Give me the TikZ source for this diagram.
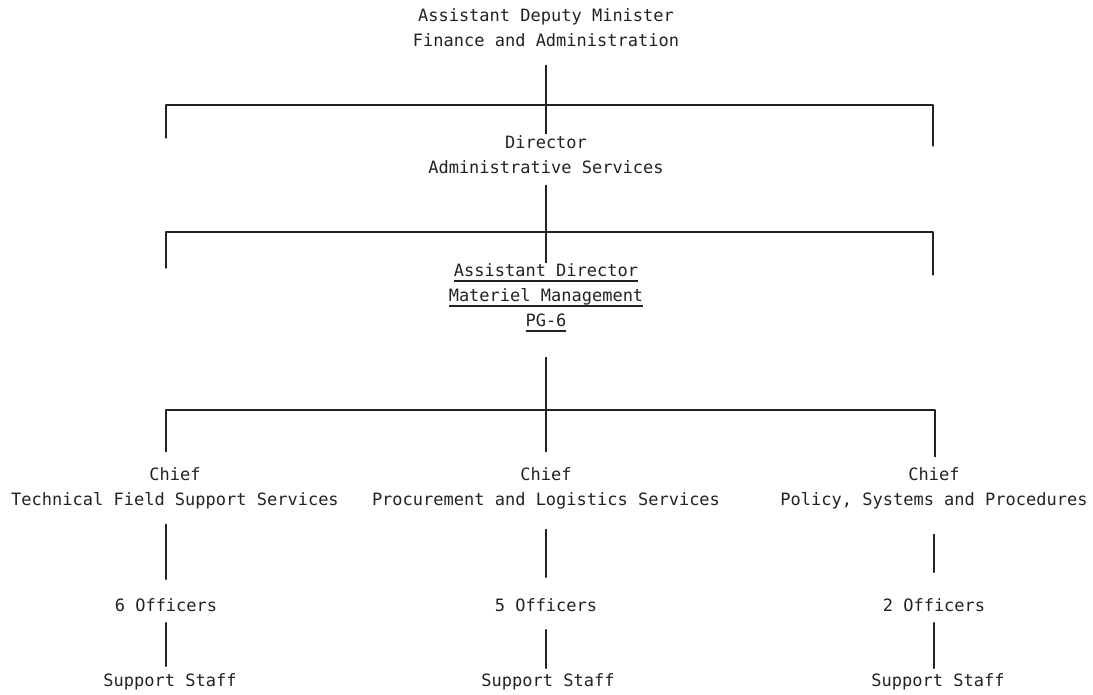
\documentclass[tikz,border=0pt]{standalone}
\usepackage{fontspec}
\newfontfamily\typer{DejaVu Sans Mono}
\definecolor{ink}{HTML}{222222}
% typed underline, same depth for every line
\newcommand{\tline}[1]{\setbox0\hbox{#1}\rlap{\rule[-5.2pt]{\wd0}{1.5pt}}\box0}

\begin{document}
\begin{tikzpicture}[x=1pt, y=-1pt, line join=round, line cap=round,
		font=\typer\fontsize{17}{25}\selectfont,
		post/.style={inner sep=0pt, align=center, text=ink, execute at begin node=\strut, execute at end node=\strut},
		link/.style={draw=ink, line width=1.3pt}]
	\useasboundingbox (0,0) rectangle (1093,694);
	% posts
	\node[post] (adm) at (546,31.5) {Assistant Deputy Minister\\Finance and Administration};
	\node[post] (dir) at (546,158.5) {Director\\Administrative Services};
	\node[post] (ad) at (546,299) {\tline{Assistant Director}\\\tline{Materiel Management}\\\tline{PG-6}};
	\node[post] (tfss) at (175,490.5) {Chief\\Technical Field Support Services};
	\node[post] (pls) at (546,490.5) {Chief\\Procurement and Logistics Services};
	\node[post] (psp) at (934,490.5) {Chief\\Policy, Systems and Procedures};
	\foreach \n/\x/\k in {off1/166/6, off2/546/5, off3/934/2} \node[post] (\n) at (\x,606) {\k\ Officers};
	\foreach \n/\x in {st1/170, st2/548, st3/938} \node[post] (\n) at (\x,681) {Support Staff};
	% bars
	\coordinate (b1l) at (166,105); \coordinate (b1r) at (933,105);
	\coordinate (e1l) at (166,138); \coordinate (e1r) at (933,146);
	\coordinate (b2l) at (166,232); \coordinate (b2r) at (933,232);
	\coordinate (e2l) at (166,268); \coordinate (e2r) at (933,275);
	\coordinate (b3l) at (166,410); \coordinate (b3r) at (935,410);
	% links
	\draw[link, shorten <=11pt, shorten >=2pt] (adm.south) -- (dir.north);
	\draw[link] (e1l) -- (b1l) -- (b1r) -- (e1r);
	\draw[link, shorten <=4pt, shorten >=1pt] (dir.south) -- (ad.north);
	\draw[link] (e2l) -- (b2l) -- (b2r) -- (e2r);
	\draw[link, shorten <=23pt, shorten >=16pt] (ad.south) -- (pls.north);
	\draw[link, shorten <=16pt, shorten >=11pt] (tfss.north -| b3l) -- (b3l) -- (b3r) -- (b3r |- psp.north);
	\draw[link, shorten <=11pt, shorten >=14pt] (tfss.south -| off1) -- (off1.north);
	\draw[link, shorten <=16pt, shorten >=16pt] (pls.south -| off2) -- (off2.north);
	\draw[link, shorten <=21pt, shorten >=21pt] (psp.south -| off3) -- (off3.north);
	\draw[link, shorten <=4pt, shorten >=2pt] (off1.south) -- (st1.north -| off1);
	\draw[link, shorten <=11pt] (off2.south) -- (st2.north -| off2);
	\draw[link, shorten <=4pt] (off3.south) -- (st3.north -| off3);
\end{tikzpicture}
\end{document}
